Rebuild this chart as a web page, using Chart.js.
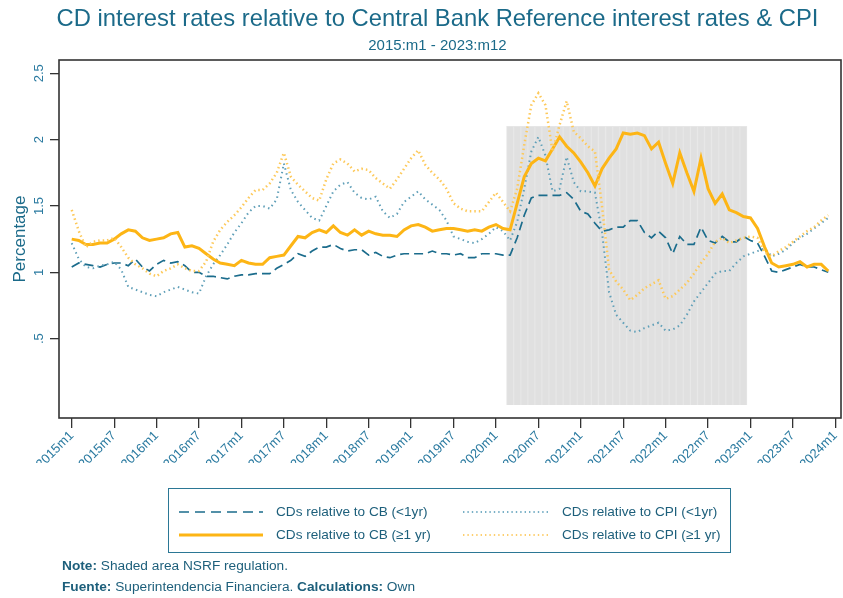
<!DOCTYPE html>
<html>
<head>
<meta charset="utf-8">
<script src="https://cdn.jsdelivr.net/npm/chart.js@4.4.1/dist/chart.umd.min.js"></script>
<style>
  html, body { margin: 0; padding: 0; background: #fff; }
  body { width: 843px; height: 598px; position: relative; overflow: hidden;
         font-family: "Liberation Sans", Arial, sans-serif; color: #1d5f7b; }
  #chart { position: absolute; left: 0; top: 0; }
  .head { position: absolute; left: 32px; width: 811px; text-align: center; color: #1b6a89; white-space: nowrap; }
  #title { top: 3px; font-size: 23.8px; line-height: 29px; }
  #subtitle { top: 36px; font-size: 15px; line-height: 18px; }
  #legend { position: absolute; left: 168px; top: 488px; width: 561px; height: 63px;
            border: 1.5px solid #2b7795; }
  #legend svg { position: absolute; left: 0; top: 0; }
  .lbl { position: absolute; font-size: 13.6px; line-height: 16px; white-space: nowrap; color: #1d5f7b; }
  .note { position: absolute; left: 62px; font-size: 13.7px; line-height: 16px; white-space: nowrap; color: #1d5f7b; }
</style>
</head>
<body>
<canvas id="chart" width="843" height="598"></canvas>
<div id="title" class="head">CD interest rates relative to Central Bank Reference interest rates &amp; CPI</div>
<div id="subtitle" class="head">2015:m1 - 2023:m12</div>
<div id="legend">
  <svg width="561" height="63">
    <line x1="10" y1="23" x2="94" y2="23" stroke="#1b6c8c" stroke-width="1.6" stroke-dasharray="10 6"/>
    <line x1="10" y1="46" x2="94" y2="46" stroke="#fdb515" stroke-width="3"/>
    <line x1="294" y1="23" x2="380" y2="23" stroke="#79b0c6" stroke-width="1.8" stroke-dasharray="1.4 3"/>
    <line x1="294" y1="46" x2="380" y2="46" stroke="#fdcf70" stroke-width="1.8" stroke-dasharray="1.4 3"/>
  </svg>
  <div class="lbl" style="left:107px; top:15px;">CDs relative to CB (&lt;1yr)</div>
  <div class="lbl" style="left:107px; top:38px;">CDs relative to CB (≥1 yr)</div>
  <div class="lbl" style="left:393px; top:15px;">CDs relative to CPI (&lt;1yr)</div>
  <div class="lbl" style="left:393px; top:38px;">CDs relative to CPI (≥1 yr)</div>
</div>
<div class="note" style="top:558px;"><b>Note:</b> Shaded area NSRF regulation.</div>
<div class="note" style="top:579px;"><b>Fuente:</b> Superintendencia Financiera. <b>Calculations:</b> Own</div>

<script>
// monthly series, 2015m1 .. 2023m12
var cbShort = [
  1.04, 1.07, 1.06, 1.05, 1.04, 1.06, 1.07, 1.07, 1.05, 1.10, 1.04, 1.01,
  1.06, 1.09, 1.07, 1.08, 1.05, 1.00, 1.00, 0.97, 0.97, 0.96, 0.95, 0.97,
  0.98, 0.98, 0.99, 0.99, 0.99, 1.03, 1.06, 1.09, 1.14, 1.12, 1.16, 1.19,
  1.19, 1.21, 1.18, 1.16, 1.17, 1.17, 1.13, 1.15, 1.12, 1.11, 1.13, 1.14,
  1.14, 1.14, 1.14, 1.16, 1.14, 1.14, 1.13, 1.14, 1.11, 1.11, 1.14, 1.14,
  1.14, 1.13, 1.13, 1.26, 1.43, 1.56, 1.58, 1.58, 1.58, 1.58, 1.60, 1.55,
  1.46, 1.44, 1.37, 1.31, 1.32, 1.34, 1.34, 1.39, 1.39, 1.30, 1.26, 1.31,
  1.26, 1.14, 1.27, 1.21, 1.21, 1.34, 1.24, 1.22, 1.27, 1.23, 1.23, 1.27,
  1.24, 1.22, 1.12, 1.01, 1.00, 1.02, 1.04, 1.06, 1.04, 1.04, 1.02, 1.00
];
var cbLong = [
  1.25, 1.24, 1.21, 1.21, 1.22, 1.22, 1.25, 1.29, 1.32, 1.31, 1.26, 1.24,
  1.25, 1.26, 1.29, 1.30, 1.19, 1.20, 1.18, 1.14, 1.10, 1.07, 1.06, 1.05,
  1.09, 1.07, 1.06, 1.06, 1.11, 1.12, 1.13, 1.20, 1.27, 1.26, 1.30, 1.32,
  1.30, 1.35, 1.30, 1.28, 1.32, 1.28, 1.31, 1.29, 1.28, 1.28, 1.27, 1.32,
  1.35, 1.36, 1.34, 1.31, 1.32, 1.33, 1.33, 1.32, 1.31, 1.32, 1.31, 1.34,
  1.36, 1.33, 1.32, 1.52, 1.72, 1.82, 1.86, 1.84, 1.93, 2.02, 1.95, 1.90,
  1.83, 1.75, 1.65, 1.78, 1.86, 1.93, 2.05, 2.04, 2.05, 2.03, 1.93, 1.98,
  1.82, 1.67, 1.90, 1.75, 1.61, 1.86, 1.63, 1.52, 1.59, 1.47, 1.45, 1.42,
  1.41, 1.33, 1.19, 1.07, 1.04, 1.05, 1.06, 1.08, 1.04, 1.06, 1.06, 1.01
];
var cpiShort = [
  1.22, 1.10, 1.04, 1.03, 1.05, 1.06, 1.08, 1.02, 0.89, 0.87, 0.85, 0.83,
  0.82, 0.85, 0.87, 0.89, 0.87, 0.85, 0.84, 0.97, 1.06, 1.13, 1.21, 1.30,
  1.37, 1.45, 1.50, 1.50, 1.48, 1.55, 1.82, 1.62, 1.53, 1.47, 1.41, 1.39,
  1.50, 1.61, 1.66, 1.68, 1.60, 1.56, 1.55, 1.57, 1.46, 1.41, 1.44, 1.53,
  1.57, 1.61, 1.55, 1.51, 1.47, 1.39, 1.27, 1.25, 1.23, 1.22, 1.25, 1.29,
  1.34, 1.31, 1.24, 1.38, 1.63, 1.91, 2.02, 1.88, 1.61, 1.63, 1.87, 1.68,
  1.61, 1.61, 1.60, 1.30, 0.85, 0.68, 0.62, 0.56, 0.55, 0.58, 0.60, 0.62,
  0.56, 0.57, 0.60, 0.68, 0.78, 0.85, 0.92, 0.99, 1.01, 1.01, 1.07, 1.12,
  1.14, 1.16, 1.18, 1.12, 1.14, 1.17, 1.22, 1.26, 1.29, 1.33, 1.37, 1.41
];
var cpiLong = [
  1.47, 1.31, 1.19, 1.23, 1.24, 1.24, 1.26, 1.19, 1.11, 1.06, 1.03, 0.99,
  0.97, 1.01, 1.03, 1.06, 1.03, 1.01, 1.01, 1.08, 1.23, 1.32, 1.38, 1.43,
  1.49, 1.56, 1.62, 1.62, 1.67, 1.75, 1.90, 1.72, 1.66, 1.61, 1.56, 1.54,
  1.70, 1.82, 1.85, 1.82, 1.76, 1.78, 1.77, 1.71, 1.67, 1.63, 1.70, 1.78,
  1.86, 1.92, 1.81, 1.75, 1.70, 1.63, 1.52, 1.48, 1.46, 1.46, 1.46, 1.53,
  1.60, 1.53, 1.46, 1.63, 1.96, 2.26, 2.35, 2.26, 1.91, 2.11, 2.29, 2.06,
  2.01, 1.95, 1.91, 1.50, 1.02, 0.93, 0.87, 0.79, 0.83, 0.88, 0.91, 0.94,
  0.80, 0.82, 0.87, 0.92, 0.99, 1.07, 1.14, 1.23, 1.26, 1.22, 1.24, 1.26,
  1.27, 1.26, 1.15, 1.12, 1.16, 1.19, 1.23, 1.27, 1.31, 1.34, 1.39, 1.43
];

var xTickLabels = ['2015m1', '2015m7', '2016m1', '2016m7', '2017m1', '2017m7', '2018m1', '2018m7',
  '2019m1', '2019m7', '2020m1', '2020m7', '2021m1', '2021m7', '2022m1', '2022m7', '2023m1', '2023m7', '2024m1'];
var yTickValues = [0.5, 1, 1.5, 2, 2.5];
var yTickLabels = ['.5', '1', '1.5', '2', '2.5'];

// shaded NSRF period: 2020m3 .. 2022m12 (month index from 2015m1)
var nsrfFirst = 62;
var nsrfLast = 95;
var nsrfHeight = 2.1;

function toPoints(arr) {
  return arr.map(function (v, i) { return {x: i, y: v}; });
}
var shade = [];
for (var i = nsrfFirst; i <= nsrfLast; i++) shade.push({x: i, y: nsrfHeight});

var teal = '#2a7aa0';
var font = "'Liberation Sans', Arial, sans-serif";

var frame = {
  id: 'frame',
  afterDatasetsDraw: function (chart) {
    var a = chart.chartArea, ctx = chart.ctx;
    ctx.save();
    ctx.strokeStyle = '#333';
    ctx.lineWidth = 1.6;
    ctx.strokeRect(a.left, a.top, a.right - a.left, a.bottom - a.top);
    ctx.restore();
  }
};

new Chart(document.getElementById('chart'), {
  data: {
    datasets: [
      {type: 'bar', label: 'NSRF', data: shade, backgroundColor: '#e0e0e0',
       borderColor: '#e6e6e6', borderWidth: 1, barPercentage: 1, categoryPercentage: 1, order: 10},
      {type: 'line', label: 'CDs relative to CB (<1yr)', data: toPoints(cbShort), borderColor: '#1b6c8c',
       borderWidth: 1.7, borderDash: [9, 5], pointRadius: 0, order: 4},
      {type: 'line', label: 'CDs relative to CPI (<1yr)', data: toPoints(cpiShort), borderColor: '#5f9fb8',
       borderWidth: 2, borderDash: [1.5, 3.5], pointRadius: 0, order: 3},
      {type: 'line', label: 'CDs relative to CB (≥1 yr)', data: toPoints(cbLong), borderColor: '#fdb515',
       borderWidth: 3, pointRadius: 0, order: 2},
      {type: 'line', label: 'CDs relative to CPI (≥1 yr)', data: toPoints(cpiLong), borderColor: '#fdc95a',
       borderWidth: 2.5, borderDash: [1.5, 3], pointRadius: 0, order: 1}
    ]
  },
  options: {
    responsive: false,
    animation: false,
    layout: {padding: {top: 60, right: 2, bottom: 135, left: 0}},
    plugins: {legend: {display: false}, tooltip: {enabled: false}},
    scales: {
      x: {
        type: 'linear', min: -1.8, max: 108.8, offset: false,
        border: {display: false},
        grid: {offset: false, drawOnChartArea: false, drawTicks: true, tickLength: 10, color: '#333', lineWidth: 1.3},
        afterBuildTicks: function (scale) {
          scale.ticks = xTickLabels.map(function (l, k) { return {value: k * 6}; });
        },
        afterFit: function (scale) { scale.height = 45; scale.paddingLeft = 0; scale.paddingRight = 0; },
        ticks: {
          autoSkip: false, minRotation: 45, maxRotation: 45, padding: 0,
          color: teal, font: {family: font, size: 13},
          callback: function (v, idx) { return xTickLabels[idx]; }
        }
      },
      y: {
        type: 'linear', min: -0.098, max: 2.6,
        border: {display: false},
        grid: {drawOnChartArea: false, drawTicks: true, tickLength: 9, color: '#333', lineWidth: 1.3},
        afterBuildTicks: function (scale) {
          scale.ticks = yTickValues.map(function (v) { return {value: v}; });
        },
        afterFit: function (scale) { scale.width = 59; },
        ticks: {
          minRotation: 90, maxRotation: 90, crossAlign: 'center', padding: 2,
          color: teal, font: {family: font, size: 13},
          callback: function (v, idx) { return yTickLabels[idx]; }
        },
        title: {display: true, text: 'Percentage', color: '#1b6a89',
                font: {family: font, size: 17}, padding: {top: 10, bottom: 0}}
      }
    }
  },
  plugins: [frame]
});
</script>
</body>
</html>
